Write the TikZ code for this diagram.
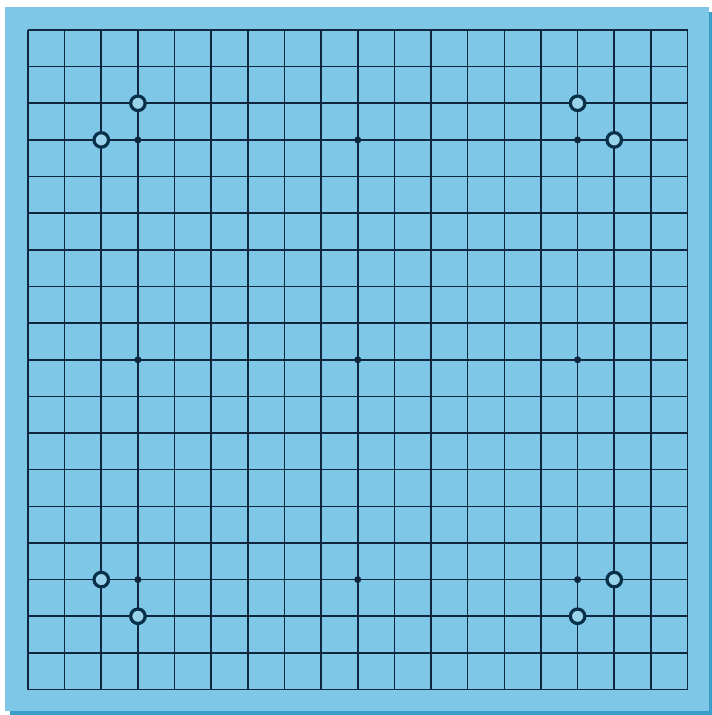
\documentclass[tikz,border=0pt]{standalone}
\begin{document}
\begin{tikzpicture}[x=1pt,y=-1pt,
  gridline/.style={draw=gridcol,line width=1.6pt},
  stone/.style={circle,draw=stonecol,line width=3.2pt,fill=boardcol!80!white,minimum size=14.5pt,inner sep=0pt},
  hoshi/.style={circle,fill=gridcol,minimum size=7pt,inner sep=0pt}]
\definecolor{boardcol}{RGB}{126,199,230}
\definecolor{shadowcol}{RGB}{58,156,200}
\definecolor{gridcol}{RGB}{14,38,62}
\definecolor{stonecol}{RGB}{8,48,72}
\useasboundingbox (0,0) rectangle (712,715);
\fill[white] (0,0) rectangle (712,715);
\fill[shadowcol] (10,12) rectangle (712,715);
\fill[boardcol] (5,7) rectangle (709,711);
\def\gx{28}\def\gy{30}\def\gs{36.64}
\foreach \i in {0,...,18}{
  \draw[gridline] ({\gx+\i*\gs},\gy) -- ({\gx+\i*\gs},{\gy+18*\gs});
  \draw[gridline] (\gx,{\gy+\i*\gs}) -- ({\gx+18*\gs},{\gy+\i*\gs});
}
\foreach \c/\r [count=\n] in {3/3,9/3,15/3,3/9,9/9,15/9,3/15,9/15,15/15}
  \node[hoshi] (h\n) at ({\gx+\c*\gs},{\gy+\r*\gs}) {};
\foreach \c/\r [count=\n] in {3/2,2/3,15/2,16/3,2/15,3/16,16/15,15/16}
  \node[stone] (s\n) at ({\gx+\c*\gs},{\gy+\r*\gs}) {};
\end{tikzpicture}
\end{document}
